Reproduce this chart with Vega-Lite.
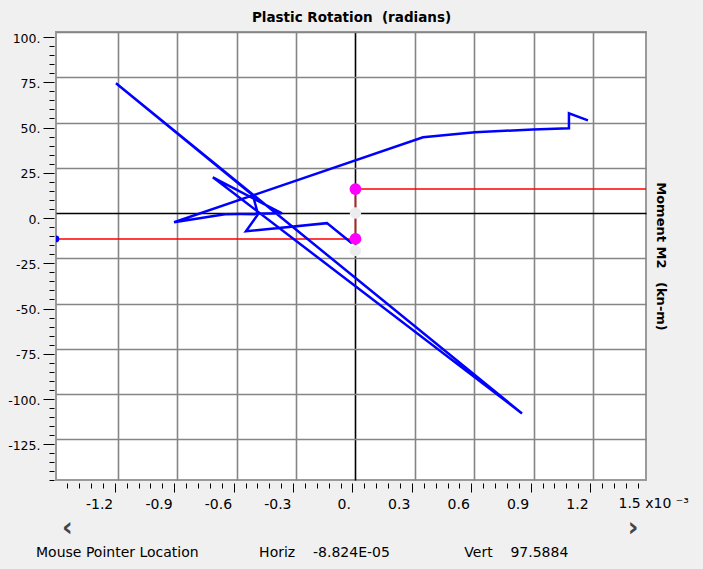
{
  "$schema": "https://vega.github.io/schema/vega-lite/v6.json",
  "width": 590,
  "height": 448,
  "autosize": {"type": "none"},
  "padding": {"left": 56, "top": 32, "right": 57, "bottom": 89},
  "background": "#f0f0f0",
  "config": {
    "view": {"fill": "#ffffff", "stroke": "#9a9a9a", "strokeWidth": 2},
    "axis": {"labelFont": "DejaVu Sans", "titleFont": "DejaVu Sans", "labelColor": "#000000", "titleColor": "#000000", "tickColor": "#000000", "labelFlush": false, "labelOverlap": false, "labelBound": false}
  },
  "title": {
    "text": "\u200b\u2003\u2039\u2003\u2003\u2003\u2003\u2003\u2003\u2003\u2003\u2003\u2003\u2003\u2003\u2003\u2003\u2003\u2003\u2003\u2003\u2003\u2003\u2003\u00a0\u203a",
    "subtitle": "Mouse Pointer Location\u2003\u2003\u2003\u2003\u00a0Horiz\u00a0\u00a0\u00a0\u00a0-8.824E-05\u2003\u2003\u2003\u2003\u2003\u00a0Vert\u00a0\u00a0\u00a0\u00a097.5884",
    "orient": "bottom",
    "anchor": "start",
    "frame": "group",
    "dx": -20,
    "offset": 4,
    "font": "DejaVu Sans",
    "fontSize": 26,
    "fontWeight": "bold",
    "color": "#444444",
    "subtitleFont": "DejaVu Sans",
    "subtitleFontSize": 14,
    "subtitleColor": "#000000",
    "subtitlePadding": 5
  },
  "datasets": {
    "path": [
      {"i": 1, "rot": -0.018, "mom": -16.7},
      {"i": 2, "rot": -0.144, "mom": -5.6},
      {"i": 3, "rot": -0.553, "mom": -10.1},
      {"i": 4, "rot": -0.492, "mom": -0.7},
      {"i": 5, "rot": -0.518, "mom": 9.8},
      {"i": 6, "rot": -1.209, "mom": 71.7},
      {"i": 7, "rot": 0.841, "mom": -110.7},
      {"i": 8, "rot": -0.72, "mom": 19.7},
      {"i": 9, "rot": -0.371, "mom": -0.2},
      {"i": 10, "rot": -0.659, "mom": -0.7},
      {"i": 11, "rot": -0.916, "mom": -5.1},
      {"i": 12, "rot": 0.341, "mom": 41.8},
      {"i": 13, "rot": 0.603, "mom": 44.6},
      {"i": 14, "rot": 0.896, "mom": 46.2},
      {"i": 15, "rot": 1.078, "mom": 46.8},
      {"i": 16, "rot": 1.078, "mom": 55.1},
      {"i": 17, "rot": 1.174, "mom": 51.2}
    ],
    "backbone": [
      {"i": 1, "rot": -1.512, "mom": -14.3},
      {"i": 2, "rot": 0, "mom": -14.3},
      {"i": 3, "rot": 0, "mom": 13.2},
      {"i": 4, "rot": 1.467, "mom": 13.2}
    ],
    "markers": [
      {"rot": 0, "mom": 0},
      {"rot": 0, "mom": -20.8}
    ],
    "limits": [
      {"rot": 0, "mom": 13.2},
      {"rot": 0, "mom": -14.3}
    ],
    "start": [
      {"rot": -1.512, "mom": -14.3}
    ]
  },
  "layer": [
    {
      "data": {"name": "backbone"},
      "mark": {"type": "line", "color": "#ff0000", "strokeWidth": 1.5, "clip": true},
      "encoding": {
        "x": {"field": "rot", "type": "quantitative", "scale": {"domain": [-1.512, 1.467], "nice": false, "zero": false},
          "axis": {"orient": "bottom", "grid": true, "ticks": false, "labels": false, "domain": false, "title": null,
            "values": [-1.2, -0.9, -0.6, -0.3, 0, 0.3, 0.6, 0.9, 1.2],
            "gridColor": {"condition": {"test": "datum.value === 0", "value": "#000000"}, "value": "#858585"},
            "gridWidth": 1.6, "gridOpacity": 1}},
        "y": {"field": "mom", "type": "quantitative", "scale": {"domain": [-147.5, 100], "nice": false, "zero": false},
          "axis": {"orient": "left", "grid": true, "ticks": false, "labels": false, "domain": false, "title": null,
            "values": [-125, -100, -75, -50, -25, 0, 25, 50, 75, 100],
            "gridColor": {"condition": {"test": "datum.value === 0", "value": "#000000"}, "value": "#858585"},
            "gridWidth": 1.6, "gridOpacity": 1}},
        "order": {"field": "i", "type": "quantitative"}
      }
    },
    {
      "data": {"name": "path"},
      "mark": {"type": "line", "color": "#0000ff", "strokeWidth": 2.5, "clip": true},
      "encoding": {
        "x": {"field": "rot", "type": "quantitative",
          "axis": {"orient": "bottom", "grid": false, "domain": false, "offset": 3, "tickOffset": -3, "tickSize": 9, "tickWidth": 1,
            "values": [-1.2, -0.9, -0.6, -0.3, 0, 0.3, 0.6, 0.9, 1.2],
            "labelExpr": "datum.value === 0 ? '0.' : '' + datum.value",
            "labelAlign": "right", "labelOffset": -2, "labelPadding": 5, "labelFontSize": 14,
            "title": "1.5 x10 \u207b\u00b3", "titleX": 562, "titleY": 20, "titleAlign": "left", "titleBaseline": "middle", "titleAngle": 0,
            "titleFontSize": 14, "titleFontWeight": "normal"}},
        "y": {"field": "mom", "type": "quantitative",
          "axis": {"orient": "left", "grid": false, "domain": false, "offset": 2, "tickOffset": 5, "tickSize": 11, "tickWidth": 1,
            "values": [-125, -100, -75, -50, -25, 0, 25, 50, 75, 100],
            "labelExpr": "datum.value + '.'",
            "labelFontSize": 12.5, "labelPadding": 3, "labelOffset": 1,
            "title": "Moment M2\u00a0\u00a0\u00a0(kn-m)", "titleX": 606, "titleY": 224, "titleAngle": 90, "titleAlign": "center", "titleBaseline": "middle",
            "titleFontSize": 13, "titleFontWeight": "bold"}},
        "order": {"field": "i", "type": "quantitative"}
      }
    },
    {
      "data": {"name": "markers"},
      "mark": {"type": "point", "filled": true, "color": "#ececec", "opacity": 1, "size": 130},
      "encoding": {
        "x": {"field": "rot", "type": "quantitative",
          "axis": {"orient": "bottom", "grid": false, "domain": false, "labels": false, "offset": 3, "tickOffset": -3, "tickSize": 5, "tickWidth": 1, "title": null,
            "values": [-1.44, -1.38, -1.32, -1.26, -1.14, -1.08, -1.02, -0.96, -0.84, -0.78, -0.72, -0.66, -0.54, -0.48, -0.42, -0.36, -0.24, -0.18, -0.12, -0.06, 0.06, 0.12, 0.18, 0.24, 0.36, 0.42, 0.48, 0.54, 0.66, 0.72, 0.78, 0.84, 0.96, 1.02, 1.08, 1.14, 1.26, 1.32, 1.38, 1.44]}},
        "y": {"field": "mom", "type": "quantitative",
          "axis": {"orient": "left", "grid": false, "domain": false, "labels": false, "offset": 2, "tickOffset": 5, "tickSize": 5, "tickWidth": 1, "title": null,
            "values": [-145, -140, -135, -130, -120, -115, -110, -105, -95, -90, -85, -80, -70, -65, -60, -55, -45, -40, -35, -30, -20, -15, -10, -5, 5, 10, 15, 20, 30, 35, 40, 45, 55, 60, 65, 70, 80, 85, 90, 95]}}
      }
    },
    {
      "data": {"name": "limits"},
      "mark": {"type": "point", "filled": true, "color": "#ff00ff", "opacity": 1, "size": 140},
      "encoding": {
        "x": {"field": "rot", "type": "quantitative",
          "axis": {"orient": "top", "grid": false, "domain": false, "labels": false, "ticks": false, "values": [],
            "title": "Plastic Rotation\u00a0\u00a0(radians)", "titleY": -11, "titleBaseline": "alphabetic", "titleFontSize": 13.5, "titleFontWeight": "bold"}},
        "y": {"field": "mom", "type": "quantitative", "axis": null}
      }
    },
    {
      "data": {"name": "start"},
      "mark": {"type": "point", "filled": true, "color": "#0000ff", "opacity": 1, "size": 45, "clip": true},
      "encoding": {
        "x": {"field": "rot", "type": "quantitative", "axis": null},
        "y": {"field": "mom", "type": "quantitative", "axis": null}
      }
    }
  ],
  "resolve": {"axis": {"x": "independent", "y": "independent"}}
}
